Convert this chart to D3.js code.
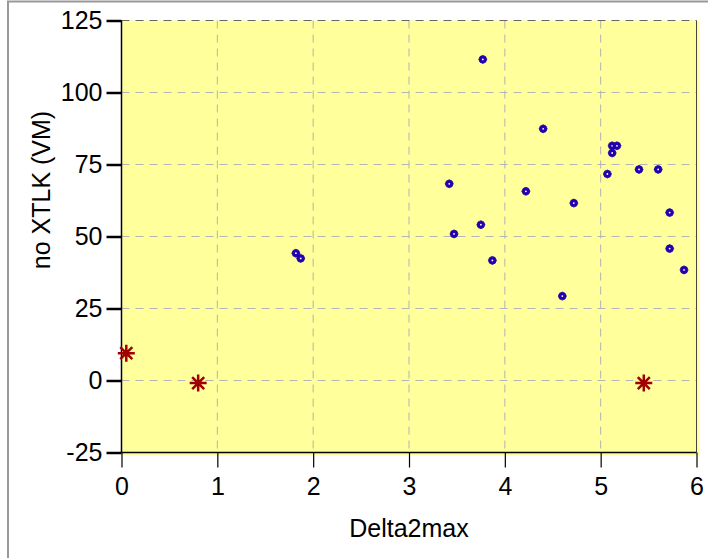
<!DOCTYPE html>
<html lang="en">
<head>
<meta charset="utf-8">
<title>no XTLK vs Delta2max</title>
<script src="https://cdn.jsdelivr.net/npm/d3@7"></script>
<style>
  body { margin: 0; background: #fff; }
  text { font-family: "Liberation Sans", Arial, sans-serif; }
</style>
</head>
<body>
<script>
// blue points
var blueX = [3.77, 4.40, 5.12, 5.17, 5.12, 5.07, 5.40, 5.60, 3.42, 4.22, 4.72, 5.72, 3.75, 3.47, 5.72, 3.87, 5.87, 1.82, 1.87, 4.60];
var blueY = [111.5, 87.4, 81.5, 81.5, 79.0, 71.7, 73.3, 73.3, 68.3, 65.7, 61.6, 58.3, 54.1, 50.9, 45.8, 41.7, 38.4, 44.2, 42.4, 29.3];
// red stars
var redX = [0.05, 0.80, 5.45];
var redY = [9.5, -0.9, -0.9];

var xTicks = [0, 1, 2, 3, 4, 5, 6];
var yTicks = [-25, 0, 25, 50, 75, 100, 125];

var w = 708, h = 558;
var pLeft = 121.5, pRight = 696.5, pTop = 20.5, pBottom = 452.5;

var svg = d3.select("body").append("svg")
    .attr("width", w)
    .attr("height", h);

// outer frame
svg.append("rect")
    .attr("x", 8).attr("y", 1.5)
    .attr("width", 720).attr("height", 600)
    .attr("fill", "none")
    .attr("stroke", "#999")
    .attr("stroke-width", 2);

var xScale = d3.scaleLinear().domain([0, 6]).range([pLeft, pRight]);
var yScale = d3.scaleLinear().domain([-25, 125]).range([pBottom, pTop]);

// plot background
svg.append("rect")
    .attr("x", pLeft).attr("y", pTop)
    .attr("width", pRight - pLeft + 2.5)
    .attr("height", pBottom - pTop + 2.5)
    .attr("fill", "#ffff9c");

// grid
svg.append("g").selectAll("line")
    .data(xTicks.slice(1, -1))
    .enter().append("line")
    .attr("x1", d => xScale(d)).attr("x2", d => xScale(d))
    .attr("y1", pTop).attr("y2", pBottom)
    .attr("stroke", "#b4b4b4")
    .attr("stroke-dasharray", "8,6");

svg.append("g").selectAll("line")
    .data(yTicks.slice(1))
    .enter().append("line")
    .attr("x1", pLeft).attr("x2", pRight)
    .attr("y1", d => yScale(d)).attr("y2", d => yScale(d))
    .attr("stroke", d => d === 125 ? "#666" : "#b4b4b4")
    .attr("stroke-dasharray", "8,6");

// right border
svg.append("line")
    .attr("x1", pRight).attr("x2", pRight)
    .attr("y1", pTop).attr("y2", pBottom)
    .attr("stroke", "#444");

// axes
var fmt = d => String(d);
var xAxis = svg.append("g")
    .attr("transform", "translate(0," + pBottom + ")")
    .call(d3.axisBottom(xScale).tickValues(xTicks).tickFormat(fmt)
        .tickSize(15).tickPadding(10));
var yAxis = svg.append("g")
    .attr("transform", "translate(" + pLeft + ",0)")
    .call(d3.axisLeft(yScale).tickValues(yTicks).tickFormat(fmt)
        .tickSize(15).tickPadding(4));

[xAxis, yAxis].forEach(function(a) {
    a.select(".domain").remove();
    a.selectAll("line").attr("stroke", "#000").attr("stroke-width", 1.2);
    a.selectAll("text")
        .attr("font-family", "Liberation Sans, Arial, sans-serif")
        .attr("font-size", 25)
        .attr("fill", "#000");
});
yAxis.selectAll("line").attr("stroke-width", 2.5);

svg.append("line")
    .attr("x1", pLeft).attr("x2", pLeft)
    .attr("y1", pTop).attr("y2", pBottom)
    .attr("stroke", "#000").attr("stroke-width", 1.5);
svg.append("line")
    .attr("x1", pLeft).attr("x2", pRight)
    .attr("y1", pBottom).attr("y2", pBottom)
    .attr("stroke", "#000").attr("stroke-width", 1.5);

// titles
svg.append("text")
    .attr("x", (pLeft + pRight) / 2).attr("y", 537)
    .attr("text-anchor", "middle")
    .attr("font-size", 25)
    .text("Delta2max");

svg.append("text")
    .attr("transform", "translate(50,190) rotate(-90)")
    .attr("text-anchor", "middle")
    .attr("font-size", 25)
    .text("no XTLK (VM)");

// blue markers
var blue = svg.append("g").selectAll("g")
    .data(blueX.map((x, i) => [x, blueY[i]]))
    .enter().append("g")
    .attr("transform", d => "translate(" + xScale(d[0]) + "," + yScale(d[1]) + ")");
blue.append("path")
    .attr("d", "M0,-4L2.8,-2.8L4,0L2.8,2.8L0,4L-2.8,2.8L-4,0L-2.8,-2.8Z")
    .attr("fill", "#2200b4")
    .attr("stroke", "#1a0096")
    .attr("stroke-width", 0.8);
blue.append("circle")
    .attr("r", 0.9)
    .attr("fill", "#fff");

// red stars
var star = "M-8.5,0L8.5,0M0,-8.5L0,8.5M-6,-6L6,6M-6,6L6,-6";
svg.append("g").selectAll("path")
    .data(redX.map((x, i) => [x, redY[i]]))
    .enter().append("path")
    .attr("transform", d => "translate(" + xScale(d[0]) + "," + yScale(d[1]) + ")")
    .attr("d", star)
    .attr("stroke", "#a00000")
    .attr("stroke-width", 2.5)
    .attr("fill", "none");
</script>
</body>
</html>
